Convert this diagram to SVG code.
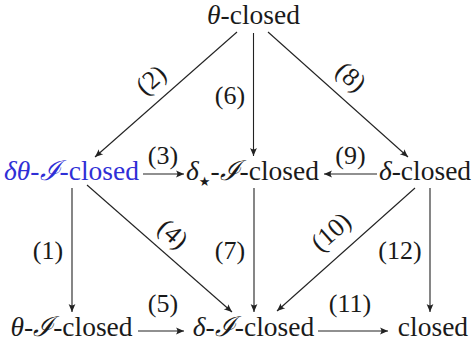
<svg xmlns="http://www.w3.org/2000/svg" width="472" height="345" viewBox="0 0 472 345" font-family="'Liberation Serif', serif">
<defs>
<style>
.n{font-size:27.5px;text-anchor:middle;fill:#1a1a1a}
.l{font-size:26px;text-anchor:middle;fill:#1a1a1a}
.i{font-style:italic}
.blue{fill:#2f2fd6}
.c line{stroke:#222;stroke-width:1.1;marker-end:url(#ah)}
</style>
<marker id="ah" markerUnits="userSpaceOnUse" markerWidth="12" markerHeight="10" viewBox="-9 -5 10 10" refX="0" refY="0" orient="auto">
<path d="M0,0 L-8,-3.4 Q-5.2,0 -8,3.4 Z" fill="#222"/>
</marker>
</defs>
<rect width="472" height="345" fill="#fff"/>
<g id="connectors" class="c">
<line x1="237" y1="32" x2="95" y2="157"/>
<line x1="253.5" y1="33" x2="253.5" y2="156"/>
<line x1="268" y1="32" x2="408" y2="157"/>
<line x1="143" y1="174" x2="184" y2="174"/>
<line x1="377" y1="174" x2="324" y2="174"/>
<line x1="72" y1="188" x2="72" y2="312"/>
<line x1="87" y1="185" x2="232" y2="312"/>
<line x1="254" y1="188" x2="254" y2="312"/>
<line x1="415" y1="188" x2="277" y2="311"/>
<line x1="430" y1="188" x2="430" y2="312"/>
<line x1="138" y1="331" x2="184" y2="331"/>
<line x1="318" y1="331" x2="388" y2="331"/>
</g>
<g id="labels">
<text class="l" transform="translate(152,81) rotate(-41.4)" x="0" y="7">(2)</text>
<text class="l" x="230" y="104">(6)</text>
<text class="l" transform="translate(350,78) rotate(41.8)" x="0" y="7">(8)</text>
<text class="l" x="163" y="164">(3)</text>
<text class="l" x="350.5" y="164">(9)</text>
<text class="l" x="48" y="259">(1)</text>
<text class="l" transform="translate(172,235) rotate(41.2)" x="0" y="7">(4)</text>
<text class="l" x="230" y="259">(7)</text>
<text class="l" transform="translate(332,233) rotate(-41.7)" x="0" y="7">(10)</text>
<text class="l" x="400" y="259">(12)</text>
<text class="l" x="163" y="312">(5)</text>
<text class="l" x="350" y="312">(11)</text>
</g>
<g id="theta-closed"><text class="n" x="253.5" y="24"><tspan class="i">θ</tspan>-closed</text></g>
<g id="delta-theta-I-closed"><text class="n blue" x="71.5" y="180"><tspan class="i">δθ</tspan>-<tspan class="i">ℐ</tspan>-closed</text></g>
<g id="delta-star-I-closed"><text class="n" x="252.5" y="180"><tspan class="i">δ</tspan><tspan font-size="13" dy="6" font-family="'DejaVu Sans', sans-serif">★</tspan><tspan dy="-6">-</tspan><tspan class="i">ℐ</tspan>-closed</text></g>
<g id="delta-closed"><text class="n" x="425" y="180"><tspan class="i">δ</tspan>-closed</text></g>
<g id="theta-I-closed"><text class="n" x="71.5" y="336"><tspan class="i">θ</tspan>-<tspan class="i">ℐ</tspan>-closed</text></g>
<g id="delta-I-closed"><text class="n" x="253.5" y="336"><tspan class="i">δ</tspan>-<tspan class="i">ℐ</tspan>-closed</text></g>
<g id="closed"><text class="n" x="433" y="336">closed</text></g>
</svg>
